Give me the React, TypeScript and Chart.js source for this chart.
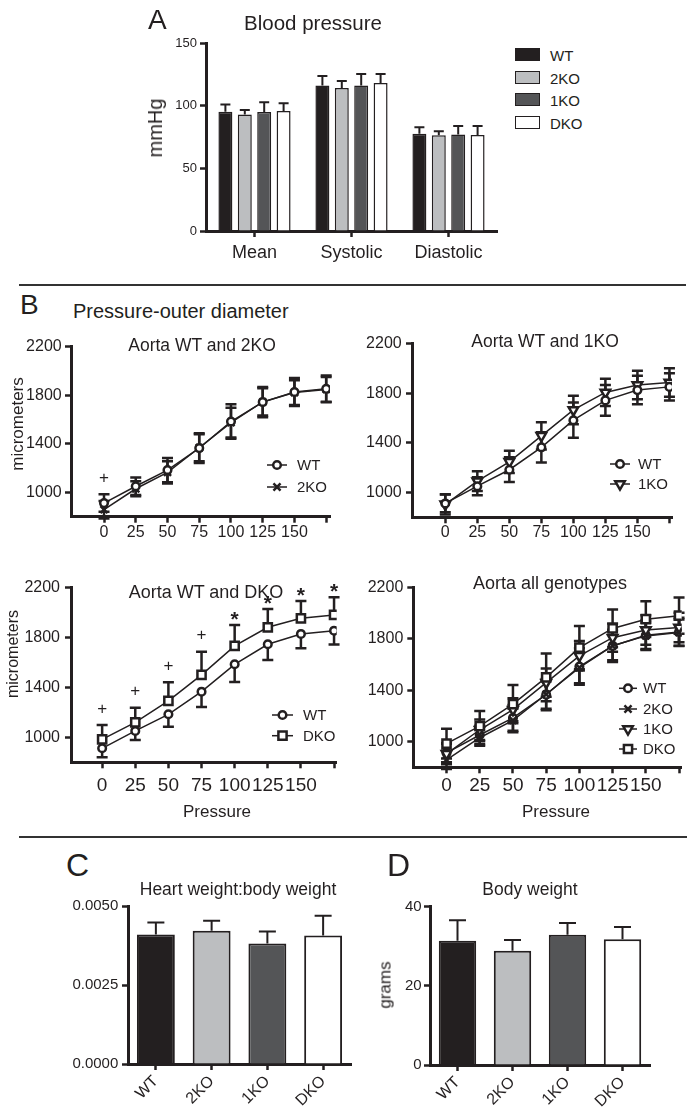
import React, { useEffect, useRef } from 'react';
import { Chart, registerables } from 'chart.js';

Chart.register(...registerables);

const FONT = '"Liberation Sans", Arial, Helvetica, sans-serif';
const INK = '#231f20';

// ---------- shared ----------
const genotypes = ['WT', '2KO', '1KO', 'DKO'];
const genoColors = ['#231f20', '#bcbec0', '#545557', '#ffffff'];

// ---------- Panel A: blood pressure ----------
const bpCategories = ['Mean', 'Systolic', 'Diastolic'];
const bpWT = [95.2, 116, 77.6];
const bp2KO = [93, 114, 76.3];
const bp1KO = [95, 116, 77];
const bpDKO = [95.7, 118, 76.6];
const bpWTErr = [5.8, 7.7, 5.1];
const bp2KOErr = [3.5, 5.7, 3.2];
const bp1KOErr = [7.7, 9.3, 6.8];
const bpDKOErr = [6.3, 7.3, 7.2];
const bpTicks = [0, 50, 100, 150];

// ---------- Panel B: pressure - outer diameter ----------
const pressures = [0, 25, 50, 75, 100, 125, 150, 175];
const pressureTickLabels = ['0', '25', '50', '75', '100', '125', '150', ''];
const diamTicks = [1000, 1400, 1800, 2200];
const wtDiam = [912, 1051, 1184, 1365, 1584, 1744, 1827, 1853];
const wtSD = [72, 72, 100, 122, 142, 125, 115, 110];
const ko2Diam = [858, 1030, 1165, 1368, 1575, 1745, 1822, 1848];
const ko2SD = [72, 62, 92, 112, 122, 112, 102, 102];
const ko1Diam = [905, 1092, 1248, 1458, 1667, 1808, 1868, 1888];
const ko1SD = [82, 80, 90, 110, 115, 110, 115, 115];
const dkoDiam = [984, 1120, 1291, 1499, 1731, 1880, 1952, 1979];
const dkoSD = [115, 117, 149, 186, 168, 147, 139, 141];
const wt2koMarks = ['+', '', '', '', '', '', '', ''];
const wtDkoMarks = ['+', '+', '+', '+', '*', '*', '*', '*'];

// ---------- Panel C: heart weight : body weight ----------
const hwbw = [0.0041, 0.00422, 0.00381, 0.00407];
const hwbwErr = [0.00038, 0.00031, 0.00038, 0.00062];
const hwbwTicks = [0, 0.0025, 0.005];

// ---------- Panel D: body weight ----------
const bodyWeight = [31.4, 28.9, 32.9, 31.8];
const bodyWeightErr = [5.2, 2.7, 3.0, 3.1];
const bwTicks = [0, 20, 40];

type Box = { x: number; y: number; w: number; h: number };

const markerStyles: Record<string, { style: string; radius: number; rotation: number }> = {
  WT: { style: 'circle', radius: 3.8, rotation: 0 },
  '2KO': { style: 'crossRot', radius: 5, rotation: 0 },
  '1KO': { style: 'triangle', radius: 5.5, rotation: 180 },
  DKO: { style: 'rect', radius: 5.8, rotation: 0 },
};

function axisStyle() {
  return {
    grid: {
      display: true,
      drawOnChartArea: false,
      drawTicks: true,
      tickLength: 6,
      tickWidth: 2.5,
      tickColor: INK,
      color: INK,
    },
    border: { display: true, width: 3, color: INK },
  };
}

const errorBarPlugin = {
  id: 'errorBars',
  beforeDatasetsDraw(chart: any) {
    const ctx = chart.ctx;
    chart.data.datasets.forEach((ds: any, i: number) => {
      if (!ds.errors) return;
      const meta = chart.getDatasetMeta(i);
      const ys = chart.scales[meta.yAxisID];
      ctx.save();
      ctx.strokeStyle = INK;
      ctx.lineWidth = ds.errorWidth || 2;
      const half = (ds.capWidth || 10) / 2;
      const dir = ds.errorDir || 'both';
      meta.data.forEach((el: any, j: number) => {
        const raw = ds.data[j];
        const v = typeof raw === 'number' ? raw : raw.y;
        const e = ds.errors[j];
        const x = el.x;
        const yv = ys.getPixelForValue(v);
        const yt = ys.getPixelForValue(v + e);
        const yb = ys.getPixelForValue(v - e);
        ctx.beginPath();
        if (dir !== 'down') {
          ctx.moveTo(x, yv);
          ctx.lineTo(x, yt);
          ctx.moveTo(x - half, yt);
          ctx.lineTo(x + half, yt);
        }
        if (dir !== 'up') {
          ctx.moveTo(x, yv);
          ctx.lineTo(x, yb);
          ctx.moveTo(x - half, yb);
          ctx.lineTo(x + half, yb);
        }
        ctx.stroke();
      });
      ctx.restore();
    });
  },
};

function makeMarks(datasetIndex: number, marks: string[]) {
  return {
    id: 'sigMarks',
    afterDatasetsDraw(chart: any) {
      const ctx = chart.ctx;
      const meta = chart.getDatasetMeta(datasetIndex);
      const ds = chart.data.datasets[datasetIndex];
      const ys = chart.scales.y;
      ctx.save();
      ctx.fillStyle = INK;
      ctx.textAlign = 'center';
      ctx.textBaseline = 'middle';
      marks.forEach((m, j) => {
        if (!m) return;
        const el = meta.data[j];
        const top = ys.getPixelForValue(ds.data[j].y + ds.errors[j]);
        const star = m === '*';
        ctx.font = star ? `bold 21px ${FONT}` : `17px ${FONT}`;
        const off = star ? 5 : 16;
        ctx.fillText(m, el.x, top - off);
      });
      ctx.restore();
    },
  };
}

function drawMarker(ctx: CanvasRenderingContext2D, style: string, x: number, y: number, r: number, rotation: number) {
  ctx.save();
  ctx.lineWidth = 2.5;
  ctx.strokeStyle = INK;
  ctx.fillStyle = '#fff';
  ctx.beginPath();
  if (style === 'circle') {
    ctx.arc(x, y, r, 0, Math.PI * 2);
    ctx.fill();
    ctx.stroke();
  } else if (style === 'rect') {
    const s = r * Math.SQRT1_2;
    ctx.rect(x - s, y - s, 2 * s, 2 * s);
    ctx.fill();
    ctx.stroke();
  } else if (style === 'triangle') {
    let rad = (rotation * Math.PI) / 180;
    ctx.moveTo(x + Math.sin(rad) * r, y - Math.cos(rad) * r);
    rad += (2 * Math.PI) / 3;
    ctx.lineTo(x + Math.sin(rad) * r, y - Math.cos(rad) * r);
    rad += (2 * Math.PI) / 3;
    ctx.lineTo(x + Math.sin(rad) * r, y - Math.cos(rad) * r);
    ctx.closePath();
    ctx.fill();
    ctx.stroke();
  } else if (style === 'crossRot') {
    const rad = Math.PI / 4;
    const xo = Math.cos(rad) * r;
    const yo = Math.sin(rad) * r;
    ctx.moveTo(x - xo, y - yo);
    ctx.lineTo(x + xo, y + yo);
    ctx.moveTo(x + yo, y - xo);
    ctx.lineTo(x - yo, y + xo);
    ctx.stroke();
  }
  ctx.restore();
}

function makeLineLegend(labels: string[], x0: number, x1: number, tx: number, rows: number[], size: number) {
  return {
    id: 'lineLegend',
    afterDraw(chart: any) {
      const ctx = chart.ctx;
      labels.forEach((lab, k) => {
        const y = rows[k];
        ctx.save();
        ctx.strokeStyle = INK;
        ctx.lineWidth = 1.5;
        ctx.beginPath();
        ctx.moveTo(x0, y);
        ctx.lineTo(x1, y);
        ctx.stroke();
        ctx.restore();
        const m = markerStyles[lab];
        drawMarker(ctx, m.style, (x0 + x1) / 2, y, m.radius, m.rotation);
        ctx.save();
        ctx.fillStyle = INK;
        ctx.font = `${size}px ${FONT}`;
        ctx.textAlign = 'left';
        ctx.textBaseline = 'middle';
        ctx.fillText(lab, tx, y + 1);
        ctx.restore();
      });
    },
  };
}

function lineDs(label: string, values: number[], errors: number[], dir: string) {
  const m = markerStyles[label];
  return {
    label,
    data: pressures.map((p, i) => ({ x: p, y: values[i] })),
    errors,
    errorDir: dir,
    capWidth: 11,
    errorWidth: 2.5,
    borderColor: INK,
    borderWidth: 1.5,
    backgroundColor: '#fff',
    pointStyle: m.style,
    pointRotation: m.rotation,
    pointRadius: m.radius,
    pointBorderWidth: 2.5,
    pointBackgroundColor: '#fff',
    pointBorderColor: INK,
    tension: 0,
    fill: false,
  };
}

function lineConfig(o: {
  datasets: any[];
  Yw: number;
  Xh: number;
  padTop: number;
  padRight: number;
  xMin: number;
  xMax: number;
  xFont: number;
  xPad: number;
  yPad: number;
  plugins: any[];
}) {
  const ax = axisStyle();
  return {
    type: 'line',
    data: { datasets: o.datasets },
    options: {
      responsive: false,
      animation: false,
      devicePixelRatio: 1,
      events: [],
      layout: { padding: { top: o.padTop, right: o.padRight, left: 0, bottom: 0 } },
      plugins: { legend: { display: false }, tooltip: { enabled: false } },
      scales: {
        x: {
          type: 'linear',
          min: o.xMin,
          max: o.xMax,
          bounds: 'data',
          afterBuildTicks: (s: any) => {
            s.ticks = pressures.map((v) => ({ value: v }));
          },
          afterFit: (s: any) => {
            s.height = o.Xh;
          },
          ticks: {
            callback: (_v: any, i: number) => pressureTickLabels[i],
            autoSkip: false,
            maxRotation: 0,
            minRotation: 0,
            font: { family: FONT, size: o.xFont },
            color: INK,
            padding: o.xPad,
          },
          ...ax,
        },
        y: {
          type: 'linear',
          min: 800,
          max: 2200,
          bounds: 'data',
          afterBuildTicks: (s: any) => {
            s.ticks = diamTicks.map((v) => ({ value: v }));
          },
          afterFit: (s: any) => {
            s.width = o.Yw;
          },
          ticks: {
            callback: (v: any) => String(v),
            font: { family: FONT, size: 16 },
            color: INK,
            padding: o.yPad,
          },
          ...ax,
        },
      },
    },
    plugins: [errorBarPlugin, ...o.plugins],
  };
}

function barConfig(o: {
  labels: string[];
  datasets: any[];
  yMin: number;
  yMax: number;
  yTicks: number[];
  yFmt: (v: number) => string;
  Yw: number;
  Xh: number;
  padTop: number;
  padRight: number;
  xFont: number;
  yFont: number;
  xPad: number;
  yPad: number;
  rot: number;
}) {
  const ax = axisStyle();
  return {
    type: 'bar',
    data: { labels: o.labels, datasets: o.datasets },
    options: {
      responsive: false,
      animation: false,
      devicePixelRatio: 1,
      events: [],
      layout: { padding: { top: o.padTop, right: o.padRight, left: 0, bottom: 0 } },
      plugins: { legend: { display: false }, tooltip: { enabled: false } },
      scales: {
        x: {
          type: 'category',
          offset: true,
          afterFit: (s: any) => {
            s.height = o.Xh;
          },
          ticks: {
            autoSkip: false,
            maxRotation: o.rot,
            minRotation: o.rot,
            font: { family: FONT, size: o.xFont },
            color: INK,
            padding: o.xPad,
          },
          grid: { ...ax.grid, offset: false },
          border: ax.border,
        },
        y: {
          type: 'linear',
          min: o.yMin,
          max: o.yMax,
          bounds: 'data',
          afterBuildTicks: (s: any) => {
            s.ticks = o.yTicks.map((v) => ({ value: v }));
          },
          afterFit: (s: any) => {
            s.width = o.Yw;
          },
          ticks: {
            callback: (v: any) => o.yFmt(Number(v)),
            font: { family: FONT, size: o.yFont },
            color: INK,
            padding: o.yPad,
          },
          ...ax,
        },
      },
    },
    plugins: [errorBarPlugin],
  };
}

function ChartBox({ box, make }: { box: Box; make: () => any }) {
  const ref = useRef<HTMLCanvasElement>(null);
  useEffect(() => {
    const c = new Chart(ref.current as HTMLCanvasElement, make());
    return () => c.destroy();
  }, []);
  return (
    <canvas
      ref={ref}
      width={box.w}
      height={box.h}
      style={{ position: 'absolute', left: box.x, top: box.y, width: box.w, height: box.h }}
    />
  );
}

function T({
  x,
  y,
  s,
  children,
  align = 'center',
  rot = false,
}: {
  x: number;
  y: number;
  s: number;
  children: React.ReactNode;
  align?: 'center' | 'left';
  rot?: boolean;
}) {
  const transform =
    align === 'center' ? `translate(-50%, -50%)${rot ? ' rotate(-90deg)' : ''}` : 'translateY(-50%)';
  return (
    <div
      style={{
        position: 'absolute',
        left: x,
        top: y,
        fontSize: s,
        lineHeight: 1,
        fontFamily: FONT,
        color: INK,
        whiteSpace: 'nowrap',
        transform,
      }}
    >
      {children}
    </div>
  );
}

const bpSeries = [bpWT, bp2KO, bp1KO, bpDKO];
const bpErrSeries = [bpWTErr, bp2KOErr, bp1KOErr, bpDKOErr];

export default function App() {
  const boxA: Box = { x: 150, y: 30, w: 360, h: 250 };
  const boxB1: Box = { x: 0, y: 330, w: 345, h: 215 };
  const boxB2: Box = { x: 340, y: 330, w: 350, h: 215 };
  const boxB3: Box = { x: 0, y: 570, w: 345, h: 255 };
  const boxB4: Box = { x: 345, y: 570, w: 345, h: 255 };
  const boxC: Box = { x: 40, y: 890, w: 320, h: 220 };
  const boxD: Box = { x: 360, y: 890, w: 330, h: 220 };

  const legendRowsA = [55, 77.5, 100, 122.5];

  return (
    <div
      style={{
        position: 'absolute',
        left: 0,
        top: 0,
        width: 693,
        height: 1110,
        background: '#fff',
        overflow: 'hidden',
      }}
    >
      {/* Panel A */}
      <ChartBox
        box={boxA}
        make={() =>
          barConfig({
            labels: bpCategories,
            datasets: genotypes.map((g, k) => ({
              label: g,
              data: bpSeries[k],
              errors: bpErrSeries[k],
              errorDir: 'up',
              capWidth: 10,
              errorWidth: 2,
              backgroundColor: genoColors[k],
              borderColor: INK,
              borderWidth: 1.5,
              barPercentage: 0.72,
              categoryPercentage: 0.8,
            })),
            yMin: 0,
            yMax: 150,
            yTicks: bpTicks,
            yFmt: (v) => String(v),
            Yw: 56,
            Xh: 49,
            padTop: 13,
            padRight: 13,
            xFont: 18,
            yFont: 13,
            xPad: 5,
            yPad: 3,
            rot: 0,
          })
        }
      />
      {/* Panel B charts */}
      <ChartBox
        box={boxB1}
        make={() =>
          lineConfig({
            datasets: [lineDs('WT', wtDiam, wtSD, 'both'), lineDs('2KO', ko2Diam, ko2SD, 'both')],
            Yw: 71,
            Xh: 28.3,
            padTop: 16.7,
            padRight: 15,
            xMin: -26,
            xMax: 178,
            xFont: 16,
            xPad: 0,
            yPad: 3.3,
            plugins: [makeMarks(0, wt2koMarks), makeLineLegend(['WT', '2KO'], 267, 287, 297, [135, 157], 15)],
          })
        }
      />
      <ChartBox
        box={boxB2}
        make={() =>
          lineConfig({
            datasets: [lineDs('WT', wtDiam, wtSD, 'both'), lineDs('1KO', ko1Diam, ko1SD, 'both')],
            Yw: 72,
            Xh: 27.7,
            padTop: 13.3,
            padRight: 18,
            xMin: -26,
            xMax: 177,
            xFont: 16,
            xPad: 0,
            yPad: 4.3,
            plugins: [makeLineLegend(['WT', '1KO'], 270, 290, 298, [134, 154], 15)],
          })
        }
      />
      <ChartBox
        box={boxB3}
        make={() =>
          lineConfig({
            datasets: [lineDs('WT', wtDiam, wtSD, 'down'), lineDs('DKO', dkoDiam, dkoSD, 'up')],
            Yw: 71,
            Xh: 62.7,
            padTop: 17.3,
            padRight: 7.3,
            xMin: -23.5,
            xMax: 177,
            xFont: 19,
            xPad: 6,
            yPad: 5,
            plugins: [makeMarks(1, wtDkoMarks), makeLineLegend(['WT', 'DKO'], 272, 293, 303, [145, 165.7], 15)],
          })
        }
      />
      <ChartBox
        box={boxB4}
        make={() =>
          lineConfig({
            datasets: [
              lineDs('DKO', dkoDiam, dkoSD, 'both'),
              lineDs('1KO', ko1Diam, ko1SD, 'both'),
              lineDs('2KO', ko2Diam, ko2SD, 'both'),
              lineDs('WT', wtDiam, wtSD, 'both'),
            ],
            Yw: 68.3,
            Xh: 57.7,
            padTop: 17.3,
            padRight: 8.3,
            xMin: -25,
            xMax: 177,
            xFont: 19,
            xPad: 1,
            yPad: 4,
            plugins: [makeLineLegend(['WT', '2KO', '1KO', 'DKO'], 274, 292, 298, [118.3, 139, 159, 179], 15)],
          })
        }
      />
      {/* Panel C */}
      <ChartBox
        box={boxC}
        make={() =>
          barConfig({
            labels: genotypes,
            datasets: [
              {
                label: 'Heart weight:body weight',
                data: hwbw,
                errors: hwbwErr,
                errorDir: 'up',
                capWidth: 17,
                errorWidth: 2,
                backgroundColor: genoColors,
                borderColor: INK,
                borderWidth: 2,
                barPercentage: 0.68,
                categoryPercentage: 1,
              },
            ],
            yMin: 0,
            yMax: 0.005,
            yTicks: hwbwTicks,
            yFmt: (v) => v.toFixed(4),
            Yw: 88,
            Xh: 46,
            padTop: 16,
            padRight: 9,
            xFont: 16,
            yFont: 15,
            xPad: 2,
            yPad: 3.7,
            rot: 45,
          })
        }
      />
      {/* Panel D */}
      <ChartBox
        box={boxD}
        make={() =>
          barConfig({
            labels: genotypes,
            datasets: [
              {
                label: 'Body weight',
                data: bodyWeight,
                errors: bodyWeightErr,
                errorDir: 'up',
                capWidth: 17,
                errorWidth: 2,
                backgroundColor: genoColors,
                borderColor: INK,
                borderWidth: 2,
                barPercentage: 0.68,
                categoryPercentage: 1,
              },
            ],
            yMin: 0,
            yMax: 40,
            yTicks: bwTicks,
            yFmt: (v) => String(v),
            Yw: 70,
            Xh: 45,
            padTop: 16.7,
            padRight: 40,
            xFont: 16,
            yFont: 15,
            xPad: 2,
            yPad: 2.3,
            rot: 45,
          })
        }
      />

      {/* Separators */}
      <div style={{ position: 'absolute', left: 19, top: 284, width: 667, height: 2, background: '#333' }} />
      <div style={{ position: 'absolute', left: 19, top: 836, width: 668, height: 2, background: '#333' }} />

      {/* Panel A texts */}
      <T x={148} y={20} s={28} align="left">A</T>
      <T x={313} y={22.5} s={20.5}>Blood pressure</T>
      <T x={155} y={128} s={20} rot>mmHg</T>
      {genotypes.map((g, k) => (
        <React.Fragment key={g}>
          <div
            style={{
              position: 'absolute',
              left: 515,
              top: legendRowsA[k] - 7,
              width: 23,
              height: 11,
              background: genoColors[k],
              border: `1.5px solid ${INK}`,
            }}
          />
          <T x={550} y={legendRowsA[k]} s={15} align="left">
            {g}
          </T>
        </React.Fragment>
      ))}

      {/* Panel B texts */}
      <T x={20} y={305} s={28} align="left">B</T>
      <T x={73} y={311} s={20} align="left">Pressure-outer diameter</T>
      <T x={202} y={345.7} s={17.5}>Aorta WT and 2KO</T>
      <T x={545} y={341.7} s={17.5}>Aorta WT and 1KO</T>
      <T x={206} y={592} s={18}>Aorta WT and DKO</T>
      <T x={550} y={583} s={18}>Aorta all genotypes</T>
      <T x={16.7} y={424} s={17} rot>micrometers</T>
      <T x={13.3} y={654} s={16} rot>micrometers</T>
      <T x={217} y={811} s={17}>Pressure</T>
      <T x={556} y={811} s={17}>Pressure</T>

      {/* Panel C / D texts */}
      <T x={66} y={865} s={32} align="left">C</T>
      <T x={238} y={890} s={17.5}>Heart weight:body weight</T>
      <T x={387} y={865} s={32} align="left">D</T>
      <T x={530} y={890} s={17.5}>Body weight</T>
      <T x={385} y={985} s={17} rot>grams</T>
    </div>
  );
}
